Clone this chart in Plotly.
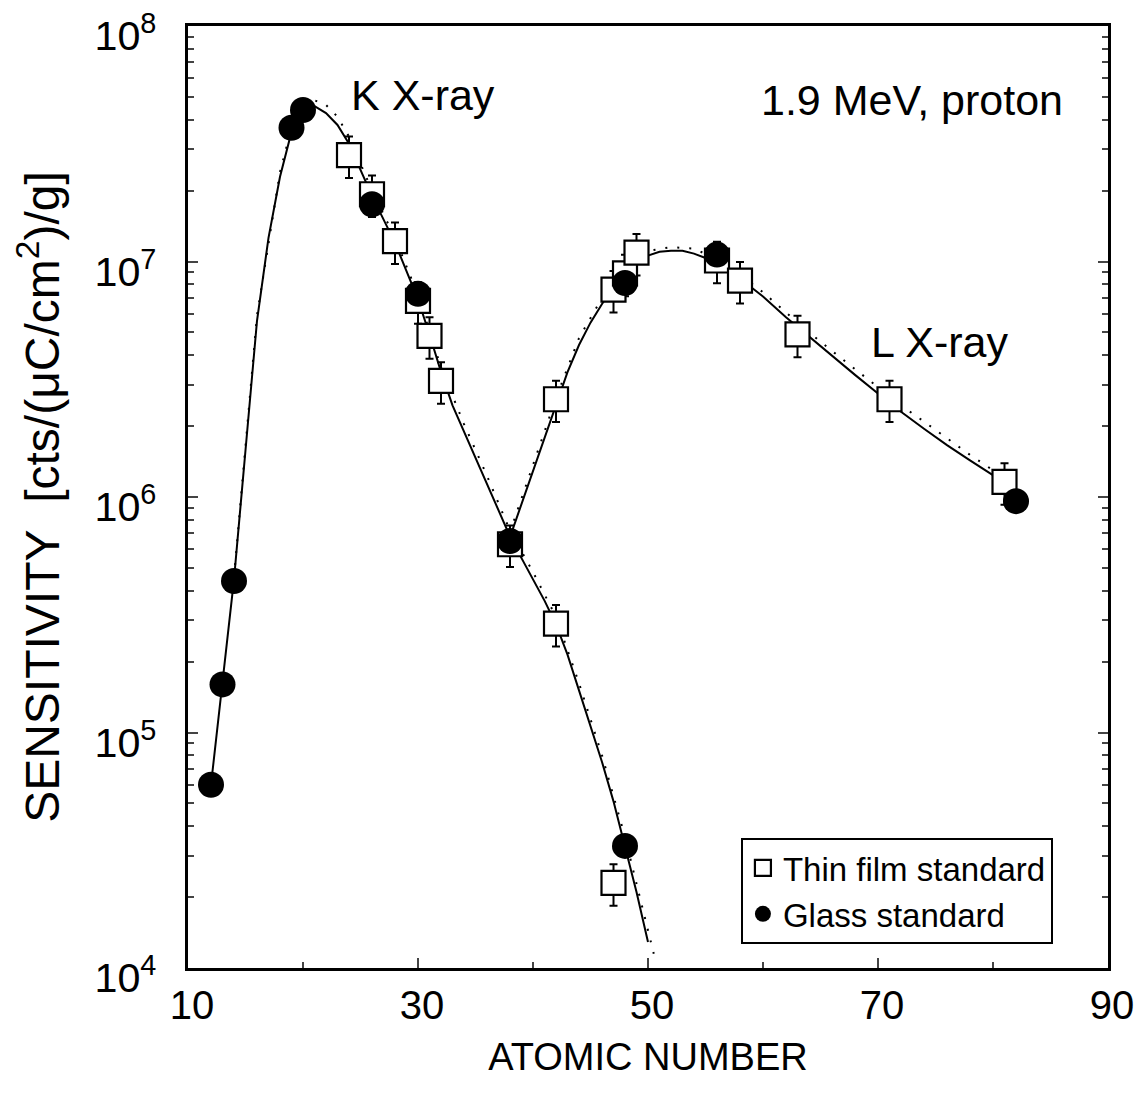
import plotly.graph_objects as go

# ---- data ----
glass_z = [12, 13, 14, 19, 20, 26, 30, 38, 48, 48, 56, 82]
glass_s = [6.0e4, 1.6e5, 4.4e5, 3.7e7, 4.4e7, 1.75e7, 7.3e6, 6.5e5, 3.3e4, 8.1e6, 1.07e7, 9.6e5]

thin_z = [24, 26, 28, 30, 31, 32, 38, 42, 47, 42, 47, 48, 49, 56, 58, 63, 71, 81]
thin_s = [2.83e7, 1.93e7, 1.22e7, 6.8e6, 4.83e6, 3.11e6, 6.3e5, 2.9e5, 2.3e4,
          2.6e6, 7.6e6, 8.9e6, 1.09e7, 1.01e7, 8.3e6, 4.9e6, 2.6e6, 1.16e6]
thin_err_pct = 20

# K X-ray calculated curve (solid)
k_z = [12, 13, 14, 15, 16, 17, 18, 19, 20, 21, 22, 23, 24, 25, 26, 27, 28, 29, 30,
       31, 32, 33, 34, 35, 36, 37, 38, 39, 40, 41, 42, 43, 44, 45, 46, 47, 48, 49, 50]
k_s = [6.0e4, 1.62e5, 4.47e5, 1.58e6, 5.6e6, 1.26e7, 2.29e7, 3.55e7, 4.37e7, 4.57e7,
       4.27e7, 3.8e7, 3.16e7, 2.45e7, 1.9e7, 1.51e7, 1.2e7, 9.1e6, 6.9e6,
       4.9e6, 3.4e6, 2.45e6, 1.9e6, 1.48e6, 1.15e6, 8.9e5, 6.8e5, 5.5e5, 4.47e5,
       3.63e5, 2.88e5, 2.14e5, 1.51e5, 1.07e5, 7.5e4, 5.1e4, 3.3e4, 2.1e4, 1.29e4]

# L X-ray calculated curve (solid)
l_z = [38, 39, 40, 41, 42, 43, 44, 45, 46, 47, 48, 49, 50, 51, 52, 53, 54, 55, 56,
       57, 58, 59, 60, 62, 64, 66, 68, 70, 72, 74, 76, 78, 80, 81]
l_s = [6.76e5, 9.3e5, 1.29e6, 1.78e6, 2.45e6, 3.39e6, 4.42e6, 5.5e6, 6.6e6, 7.76e6,
       8.9e6, 9.9e6, 1.06e7, 1.1e7, 1.11e7, 1.11e7, 1.08e7, 1.035e7, 9.8e6,
       9.1e6, 8.4e6, 7.76e6, 7.1e6, 5.8e6, 4.8e6, 4.0e6, 3.3e6, 2.75e6, 2.3e6,
       1.95e6, 1.66e6, 1.43e6, 1.23e6, 1.15e6]

# second calculation (dotted)
kd_z = [14, 16, 18, 19, 20, 21, 22, 23, 24, 26, 28, 30, 32, 34, 36, 38, 40, 42, 44, 46, 48, 50, 50.5]
kd_s = [4.57e5, 5.9e6, 2.4e7, 3.7e7, 4.57e7, 4.84e7, 4.62e7, 4.12e7, 3.39e7, 2.0e7,
        1.26e7, 7.2e6, 3.55e6, 2.04e6, 1.23e6, 7.2e5, 4.8e5, 3.1e5, 1.62e5, 8.0e4,
        3.6e4, 1.41e4, 1.15e4]
ld_z = [38, 40, 42, 44, 46, 48, 50, 52, 54, 56, 58, 60, 62, 64, 66, 68, 70, 72, 74, 76, 78, 80, 81]
ld_s = [7.1e5, 1.38e6, 2.63e6, 4.73e6, 7.0e6, 9.3e6, 1.11e7, 1.15e7, 1.135e7, 1.02e7,
        8.8e6, 7.4e6, 6.1e6, 5.0e6, 4.17e6, 3.5e6, 2.92e6, 2.45e6, 2.09e6, 1.78e6,
        1.51e6, 1.3e6, 1.2e6]

x_ticks = [10, 30, 50, 70, 90]
x_minor = [20, 40, 60, 80]

FONT = "Liberation Sans, Arial, sans-serif"

fig = go.Figure()

for zz, ss in [(kd_z, kd_s), (ld_z, ld_s)]:
    fig.add_trace(go.Scatter(x=zz, y=ss, mode="lines", showlegend=False, hoverinfo="skip",
                             line=dict(color="black", width=2, dash="2px,10px")))
for zz, ss in [(k_z, k_s), (l_z, l_s)]:
    fig.add_trace(go.Scatter(x=zz, y=ss, mode="lines", showlegend=False, hoverinfo="skip",
                             line=dict(color="black", width=2)))

fig.add_trace(go.Scatter(
    x=thin_z, y=thin_s, mode="markers", name="Thin film standard",
    marker=dict(symbol="square", size=24, color="white", line=dict(color="black", width=2.2)),
    error_y=dict(type="percent", value=thin_err_pct, color="black", thickness=2, width=4),
))
fig.add_trace(go.Scatter(
    x=glass_z, y=glass_s, mode="markers", name="Glass standard",
    marker=dict(symbol="circle", size=26, color="black", line=dict(width=0)),
))

fig.update_layout(
    width=1137, height=1097,
    margin=dict(l=188, r=29, t=26, b=129, autoexpand=False),
    plot_bgcolor="white", paper_bgcolor="white",
    font=dict(family=FONT, color="black"),
    legend=dict(x=0.601, y=0.138, xanchor="left", yanchor="top",
                bordercolor="black", borderwidth=2, bgcolor="white",
                font=dict(size=33, family=FONT), tracegroupgap=0),
)
fig.update_xaxes(
    range=[10, 90], tickvals=x_ticks, ticks="inside", ticklen=10, tickwidth=2,
    showline=True, linewidth=3, linecolor="black", mirror=True, automargin=False,
    showgrid=False, zeroline=False, tickfont=dict(size=40),
    ticklabelshift=4, ticklabeloverflow="allow",
    minor=dict(tickvals=x_minor, ticks="inside", ticklen=6, tickwidth=2, showgrid=False),
    title=dict(text="ATOMIC NUMBER", font=dict(size=38), standoff=18),
)
fig.update_yaxes(
    type="log", range=[4, 8], dtick=1, exponentformat="power",
    ticks="inside", ticklen=10, tickwidth=2, ticklabelstandoff=22,
    ticklabelshift=10, ticklabeloverflow="allow", automargin=False,
    showline=True, linewidth=3, linecolor="black", mirror="ticks",
    showgrid=False, zeroline=False, tickfont=dict(size=33),
    minor=dict(dtick="D1", ticks="inside", ticklen=6, tickwidth=2, showgrid=False),
    title=dict(text="SENSITIVITY&nbsp; [cts/(μC/cm<sup>2</sup>)/g]", font=dict(size=48), standoff=20),
)

fig.add_annotation(x=30.4, y=7.707, xref="x", yref="y", text="K X-ray", showarrow=False,
                   font=dict(size=43), xanchor="center", yanchor="middle")
fig.add_annotation(x=86.3, y=7.686, xref="x", yref="y", text="1.9 MeV, proton", showarrow=False,
                   font=dict(size=43), xanchor="right", yanchor="middle")
fig.add_annotation(x=75.4, y=6.658, xref="x", yref="y", text="L X-ray", showarrow=False,
                   font=dict(size=43), xanchor="center", yanchor="middle")

fig.write_html("out.html")
